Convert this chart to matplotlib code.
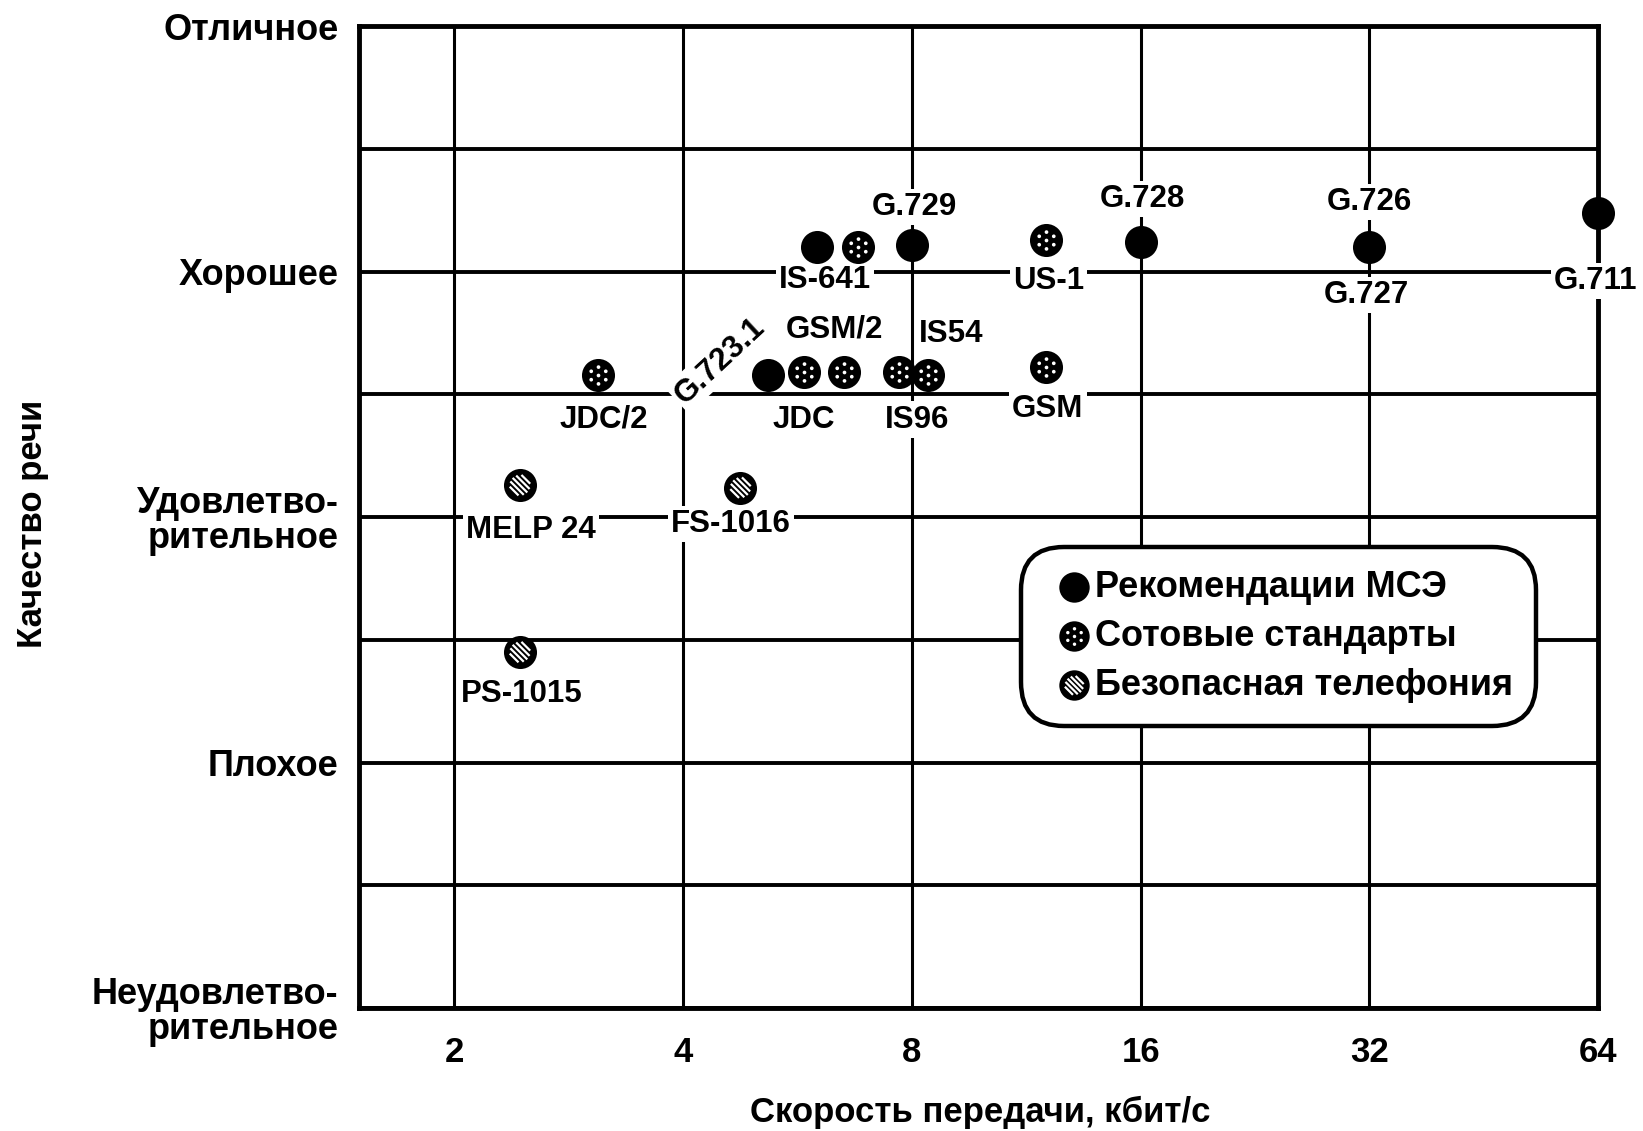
import numpy as np
import matplotlib
matplotlib.use("Agg")
import matplotlib.pyplot as plt
from matplotlib import font_manager
from matplotlib.path import Path
from matplotlib.ticker import FixedLocator, NullLocator, NullFormatter

# values (bit rate, kbit/s ; quality 1..5)
itu_names = ["IS-641", "G.729", "G.723.1", "G.728", "G.726", "G.711"]
itu_rate = [6.0, 8.0, 5.18, 16.0, 32.0, 64.0]
itu_quality = [4.10, 4.11, 3.58, 4.12, 4.10, 4.24]

cell_names = ["", "US-1", "JDC/2", "JDC", "GSM/2", "IS96", "IS54", "GSM"]
cell_rate = [6.8, 12.0, 3.09, 5.77, 6.51, 7.69, 8.41, 12.0]
cell_quality = [4.10, 4.13, 3.58, 3.59, 3.59, 3.59, 3.58, 3.61]

secure_names = ["MELP 24", "FS-1016", "PS-1015"]
secure_rate = [2.44, 4.76, 2.44]
secure_quality = [3.13, 3.12, 2.45]

rate_ticks = [2, 4, 8, 16, 32, 64]
quality_ticks = [1, 2, 3, 4, 5]
quality_labels = ["Неудовлетво-\nрительное", "Плохое", "Удовлетво-\nрительное",
                  "Хорошее", "Отличное"]
legend_labels = ["Рекомендации МСЭ", "Сотовые стандарты", "Безопасная телефония"]

# label placement: text, dx, dy (points from marker), rotation
LABELS = {
    "IS-641": [("IS-641", 6, -24, 0)],
    "G.729": [("G.729", 1.5, 27, 0)],
    "G.723.1": [("G.723.1", -35, 10, 43)],
    "G.728": [("G.728", 1.5, 31, 0)],
    "G.726": [("G.726", 0, 32.5, 0), ("G.727", -2, -34.5, 0)],
    "G.711": [("G.711", -1.5, -49, 0)],
    "US-1": [("US-1", 2, -30, 0)],
    "JDC/2": [("JDC/2", 4, -32, 0)],
    "JDC": [("JDC", 0, -34, 0)],
    "GSM/2": [("GSM/2", -7, 31, 0)],
    "IS96": [("IS96", 13, -34, 0)],
    "IS54": [("IS54", 16.5, 29.5, 0)],
    "GSM": [("GSM", 1.5, -30, 0)],
    "MELP 24": [("MELP 24", 8, -32, 0)],
    "FS-1016": [("FS-1016", -7, -26, 0)],
    "PS-1015": [("PS-1015", 1, -30, 0)],
}

installed = {f.name for f in font_manager.fontManager.ttflist}
narrow_name = next((n for n in ("Liberation Sans Narrow", "Arial Narrow") if n in installed), None)
WIDE = ["Liberation Sans", "DejaVu Sans"]
NARROW = [narrow_name] + WIDE if narrow_name else WIDE
NOTE_SIZE = 26 if narrow_name else 22.5
YLAB_SIZE = 30 if narrow_name else 25

plt.rcParams["font.family"] = WIDE
plt.rcParams["font.weight"] = "bold"


def dots_marker():
    parts = [Path.circle((0, 0), 0.22)]
    for a in np.deg2rad(np.arange(90, 450, 60)):
        parts.append(Path.circle((np.cos(a), np.sin(a)), 0.22))
    return Path.make_compound_path(*parts)


def stripes_marker():
    verts, codes = [], []
    u = np.array([1.0, -1.0]) / np.sqrt(2)
    n = np.array([1.0, 1.0]) / np.sqrt(2)
    for d in (-0.8, -0.4, 0.0, 0.4, 0.8):
        h = np.sqrt(1 - d * d)
        verts += [tuple(d * n - h * u), tuple(d * n + h * u)]
        codes += [Path.MOVETO, Path.LINETO]
    return Path(verts, codes)


fig = plt.figure(figsize=(16.43, 11.31), dpi=100)
ax = fig.add_axes([0.21875, 0.10875, 0.7539, 0.86808])

ax.set_xscale("log", base=2)
ax.set_xlim(1.5, 64)
ax.set_ylim(1, 5)

DISK = 566
PAT = DISK * 0.62 ** 2

h_itu = ax.scatter(itu_rate, itu_quality, s=DISK, c="black", linewidths=0,
                   zorder=6, clip_on=False)

h_cell = ax.scatter(cell_rate, cell_quality, s=DISK, c="black", linewidths=0,
                    zorder=6, clip_on=False)
h_cell_p = ax.scatter(cell_rate, cell_quality, s=PAT, marker=dots_marker(),
                      c="white", linewidths=0, zorder=6.1, clip_on=False)

h_sec = ax.scatter(secure_rate, secure_quality, s=DISK, c="black", linewidths=0,
                   zorder=6, clip_on=False)
h_sec_p = ax.scatter(secure_rate, secure_quality, s=PAT, marker=stripes_marker(),
                     facecolors="none", edgecolors="white", linewidths=1.6,
                     zorder=6.1, clip_on=False)

for names, xs, ys in ((itu_names, itu_rate, itu_quality),
                      (cell_names, cell_rate, cell_quality),
                      (secure_names, secure_rate, secure_quality)):
    for name, xv, yv in zip(names, xs, ys):
        for text, dx, dy, rot in LABELS.get(name, []):
            ax.annotate(text, (xv, yv), xytext=(dx, dy), textcoords="offset points",
                        ha="center", va="center", rotation=rot, rotation_mode="anchor",
                        fontsize=NOTE_SIZE, fontweight="bold", family=NARROW,
                        zorder=5, annotation_clip=False,
                        bbox=dict(boxstyle="square,pad=0.1", fc="white", ec="none"))

# grid
ax.xaxis.set_major_locator(FixedLocator(rate_ticks))
ax.xaxis.set_minor_locator(NullLocator())
ax.xaxis.set_minor_formatter(NullFormatter())
ax.set_xticklabels([str(t) for t in rate_ticks])
ax.yaxis.set_major_locator(FixedLocator(quality_ticks))
ax.yaxis.set_minor_locator(FixedLocator([1.5, 2.5, 3.5, 4.5]))
ax.set_yticklabels(quality_labels, linespacing=1.0)
ax.grid(axis="x", which="major", color="black", linewidth=2.2)
ax.grid(axis="y", which="both", color="black", linewidth=2.8)
ax.set_axisbelow(True)
ax.tick_params(axis="both", which="both", length=0)
ax.tick_params(axis="x", pad=20, labelsize=25)
ax.tick_params(axis="y", pad=15, labelsize=26)
for sp in ax.spines.values():
    sp.set_linewidth(3.5)

fig.text(980 / 1643, 1 - 1112 / 1131, "Скорость передачи, кбит/с", ha="center",
         va="center", fontsize=25, fontweight="bold")
fig.text(33 / 1643, 1 - 524 / 1131, "Качество речи", ha="center", va="center",
         rotation=90, fontsize=YLAB_SIZE, fontweight="bold", family=NARROW)

leg = ax.legend([h_itu, (h_cell, h_cell_p), (h_sec, h_sec_p)], legend_labels,
                loc="upper left", bbox_to_anchor=(0.534, 0.4696), fontsize=26,
                markerscale=0.92, handlelength=1.7, handletextpad=-0.28,
                labelspacing=0.39, borderpad=0.63, borderaxespad=0,
                frameon=True, fancybox=True, framealpha=1, edgecolor="black")
leg.get_frame().set_linewidth(3.2)
leg.get_frame().set_boxstyle("round", pad=0, rounding_size=1.2)
leg.set_zorder(7)

fig.savefig("out.png", dpi=100, facecolor="white")
